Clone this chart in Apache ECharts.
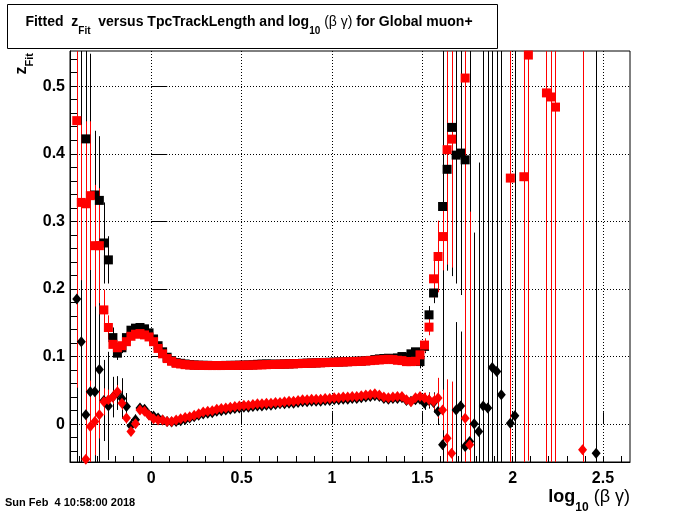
<!DOCTYPE html>
<html><head><meta charset="utf-8">
<script src="https://cdn.jsdelivr.net/npm/echarts@6/dist/echarts.min.js"></script>
<style>html,body{margin:0;padding:0;background:#fff}#c{width:700px;height:514px}</style>
</head><body><div id="c"></div>
<script>
// bin centres in log10(beta gamma)
const bins = [
-0.4125,-0.3875,-0.3625,-0.3375,-0.3125,-0.2875,-0.2625,-0.2375,-0.2125,-0.1875,
-0.1625,-0.1375,-0.1125,-0.0875,-0.0625,-0.0375,-0.0125,0.0125,0.0375,0.0625,
0.0875,0.1125,0.1375,0.1625,0.1875,0.2125,0.2375,0.2625,0.2875,0.3125,
0.3375,0.3625,0.3875,0.4125,0.4375,0.4625,0.4875,0.5125,0.5375,0.5625,
0.5875,0.6125,0.6375,0.6625,0.6875,0.7125,0.7375,0.7625,0.7875,0.8125,
0.8375,0.8625,0.8875,0.9125,0.9375,0.9625,0.9875,1.0125,1.0375,1.0625,
1.0875,1.1125,1.1375,1.1625,1.1875,1.2125,1.2375,1.2625,1.2875,1.3125,
1.3375,1.3625,1.3875,1.4125,1.4375,1.4625,1.4875,1.5125,1.5375,1.5625,
1.5875,1.6125,1.6375,1.6625,1.6875,1.7125,1.7375,1.7625,1.7875,1.8125,
1.8375,1.8625,1.8875,1.9125,1.9375,1.9625,1.9875,2.0125,2.0375,2.0625,
2.0875,2.1125,2.1375,2.1625,2.1875,2.2125,2.2375,2.2625,2.2875,2.3125,
2.3375,2.3625,2.3875,2.4125,2.4375,2.4625];
const _ = null;
// black squares
const blackSquareY = [
_,_,0.422,_,0.339,0.331,0.268,0.243,0.128,0.105,
0.113,0.128,0.139,0.142,0.143,0.141,0.135,0.126,0.116,0.107,
0.099,0.094,0.091,0.090,0.089,0.088,0.0875,0.0872,0.087,0.087,
0.0868,0.0868,0.0868,0.0869,0.087,0.087,0.0872,0.0873,0.0875,0.0877,
0.0885,0.0888,0.089,0.0888,0.0886,0.0888,0.089,0.0892,0.0894,0.0897,
0.090,0.0902,0.0904,0.0907,0.091,0.0913,0.0915,0.0918,0.092,0.0922,
0.0925,0.0928,0.093,0.0933,0.0938,0.0943,0.0955,0.0965,0.097,0.0975,
0.097,0.098,0.100,0.099,0.104,0.107,0.0926,0.115,0.1617,0.194,
_,0.322,0.377,0.439,0.398,0.401,0.391,_,_,_,
_,_,_,_,_,_,_,_,_,_,
_,_,_,_,_,_,_,_,_,_,
_,_,_,_,_,_];
const blackSquareErr = [
0,0,0.15,0,0.095,0.095,0.06,0.035,0.015,0.01,
0.008,0.005,0.004,0.004,0.003,0.003,0.003,0.003,0.002,0.002,
0,0,0,0,0,0,0,0,0,0,
0,0,0,0,0,0,0,0,0,0,
0,0,0,0,0,0,0,0,0,0,
0,0,0,0,0,0,0,0,0,0,
0,0,0,0,0,0,0,0,0,0,
0,0,0,0,0.004,0.005,0.01,0.01,0.013,0.015,
0,0.085,0.15,0.22,0.19,0.21,0.2,0,0,0,
0,0,0,0,0,0,0,0,0,0,
0,0,0,0,0,0,0,0,0,0,
0,0,0,0,0,0];
// red squares
const redSquareY = [
0.449,0.328,0.326,0.338,0.264,0.264,0.169,0.143,0.118,0.113,
0.116,0.122,0.130,0.133,0.134,0.132,0.129,0.122,0.112,0.104,
0.097,0.093,0.090,0.089,0.088,0.0875,0.087,0.087,0.0868,0.0867,
0.0867,0.0867,0.0867,0.0868,0.0868,0.0869,0.087,0.087,0.0872,0.0873,
0.0875,0.0877,0.088,0.0882,0.0884,0.0886,0.0888,0.089,0.0892,0.0895,
0.0897,0.090,0.0902,0.0905,0.0907,0.091,0.0912,0.0915,0.0917,0.092,
0.0922,0.0925,0.0928,0.093,0.0935,0.094,0.0945,0.095,0.0955,0.096,
0.0955,0.0945,0.094,0.0925,0.0925,0.093,0.1025,0.117,0.1435,0.215,
0.248,0.2775,0.406,0.4216,_,_,0.512,_,_,_,
_,_,_,_,_,_,0.364,_,_,0.366,
0.546,_,_,_,0.490,0.484,0.469,_,_,_,
_,_,_,_,_,_];
const redSquareErr = [
0.395,0.115,0.11,0.11,0.09,0.085,0.03,0.018,0.01,0.008,
0.006,0.005,0.004,0.004,0.003,0.003,0.003,0.003,0.002,0.002,
0,0,0,0,0,0,0,0,0,0,
0,0,0,0,0,0,0,0,0,0,
0,0,0,0,0,0,0,0,0,0,
0,0,0,0,0,0,0,0,0,0,
0,0,0,0,0,0,0,0,0,0,
0,0,0,0,0,0,0.008,0.01,0.012,0.028,
0.053,0.05,0.17,0.19,0,0,0.7,0,0,0,
0,0,0,0,0,0,0.6,0,0,0.6,
0.6,0,0,0,0.6,0.6,0.6,0,0,0,
0,0,0,0,0,0];
// black diamonds
const blackDiamondY = [
0.185,0.122,0.0138,0.048,0.048,0.081,0.035,0.027,0.040,0.046,
0.038,0.026,-0.0025,0.0064,0.024,0.022,0.014,0.012,0.009,0.006,
0.004,0.003,0.004,0.005,0.007,0.009,0.011,0.013,0.015,0.016,
0.017,0.019,0.020,0.021,0.022,0.023,0.024,0.025,0.025,0.026,
0.027,0.027,0.028,0.028,0.029,0.030,0.030,0.031,0.031,0.032,
0.033,0.033,0.034,0.034,0.034,0.035,0.035,0.036,0.036,0.037,
0.037,0.038,0.038,0.039,0.040,0.041,0.042,0.041,0.038,0.037,
0.038,0.038,0.039,0.035,0.034,0.036,0.037,0.031,0.035,0.032,
0.0187,-0.0306,_,_,0.021,0.027,-0.033,-0.0257,0.0004,-0.011,
0.027,0.0237,0.0837,0.078,0.0433,_,0.0015,0.0123,_,_,
_,_,_,_,_,_,_,_,_,_,
_,_,_,_,_,-0.043];
const blackDiamondErr = [
0.25,0.45,0.25,0.5,0.15,0.34,0.06,0.08,0.03,0.025,
0.03,0.02,0.01,0.008,0.006,0.005,0.004,0.003,0.003,0.002,
0,0,0,0,0,0,0,0,0,0,
0,0,0,0,0,0,0,0,0,0,
0,0,0,0,0,0,0,0,0,0,
0,0,0,0,0,0,0,0,0,0,
0,0,0,0,0,0,0,0,0,0,
0,0,0,0,0,0,0.005,0.01,0.012,0.015,
0.02,0.6,0,0,0.13,0.11,0.3,0.6,0.283,0.398,
0.6,0.6,0.6,0.6,0.6,0,0.6,0.6,0,0,
0,0,0,0,0,0,0,0,0,0,
0,0,0,0,0,0.8];
// red diamonds
const redDiamondY = [
_,_,-0.052,-0.0035,0.004,0.0138,0.033,0.036,0.040,0.048,
0.031,0.009,-0.011,0.0004,0.021,0.019,0.013,0.008,0.006,0.006,
0.004,0.004,0.006,0.008,0.010,0.011,0.013,0.0155,0.018,0.019,
0.020,0.022,0.023,0.024,0.025,0.026,0.027,0.028,0.028,0.029,
0.030,0.030,0.031,0.031,0.032,0.032,0.033,0.034,0.034,0.035,
0.036,0.036,0.037,0.037,0.037,0.038,0.038,0.039,0.039,0.040,
0.040,0.041,0.041,0.042,0.043,0.044,0.045,0.043,0.040,0.039,
0.040,0.041,0.041,0.036,0.033,0.039,0.041,0.0385,0.036,0.0334,
0.0385,0.021,-0.0207,-0.043,_,_,0.0089,-0.0306,_,_,
_,_,_,_,_,_,_,_,_,_,
_,_,_,_,_,_,_,_,_,_,
_,_,-0.038,_,_,_];
const redDiamondErr = [
0,0,0.5,0.068,0.05,0.035,0.02,0.015,0.01,0.01,
0.01,0.008,0.006,0.005,0.004,0.003,0.003,0.002,0.002,0.002,
0,0,0,0,0,0,0,0,0,0,
0,0,0,0,0,0,0,0,0,0,
0,0,0,0,0,0,0,0,0,0,
0,0,0,0,0,0,0,0,0,0,
0,0,0,0,0,0,0,0,0,0,
0,0,0,0,0,0,0.005,0.008,0.01,0.012,
0.03,0.03,0.087,0.106,0,0,0.05,0.345,0,0,
0,0,0,0,0,0,0,0,0,0,
0,0,0,0,0,0,0,0,0,0,
0,0,0.8,0,0,0];

const xLabels = [0, 0.5, 1, 1.5, 2, 2.5];
const xMinorTicks = [-0.4,-0.3,-0.2,-0.1,0,0.1,0.2,0.3,0.4,0.5,0.6,0.7,0.8,0.9,1,1.1,1.2,1.3,1.4,1.5,1.6,1.7,1.8,1.9,2,2.1,2.2,2.3,2.4,2.5,2.6];
const yLabels = [0, 0.1, 0.2, 0.3, 0.4, 0.5];
const yMinorTicks = [-0.04,-0.02,0,0.02,0.04,0.06,0.08,0.1,0.12,0.14,0.16,0.18,0.2,0.22,0.24,0.26,0.28,0.3,0.32,0.34,0.36,0.38,0.4,0.42,0.44,0.46,0.48,0.5,0.52,0.54];

const FONT = "'Liberation Sans', Arial, Helvetica, sans-serif";
const XMIN = -0.45, XMAX = 2.65, YMIN = -0.056, YMAX = 0.552;

function pts(ys){ const out=[]; bins.forEach((x,i)=>{ if(ys[i]!==null) out.push([x, ys[i]]); }); return out; }
function bars(ys, es){ const out=[]; bins.forEach((x,i)=>{ if(ys[i]!==null && es[i]>0) out.push([x, ys[i], es[i]]); }); return out; }
function errSeries(ys, es, color){
  return {type:'custom', coordinateSystem:'cartesian2d', clip:true, silent:true,
    data: bars(ys, es), encode:{x:0, y:1},
    renderItem(params, api){
      const x=api.value(0), y=api.value(1), e=api.value(2);
      const a=api.coord([x, y-e]), b=api.coord([x, y+e]);
      const px=Math.round(a[0])+0.5;
      return {type:'line', shape:{x1:px, y1:a[1], x2:px, y2:b[1]}, style:{stroke:color, lineWidth:1}};
    }};
}
function scat(ys, symbol, size, color){
  return {type:'scatter', data: pts(ys), symbol, symbolSize:size, silent:true,
    itemStyle:{color, opacity:1}};
}

const chart = echarts.init(document.getElementById('c'));
const dotted = {color:'#000', width:1, type:[1,2]};
chart.setOption({
  animation:false,
  backgroundColor:'#fff',
  grid:{left:70, top:51, width:560, height:411, show:true, borderColor:'#000', borderWidth:1, backgroundColor:'#fff', containLabel:false, outerBoundsMode:'none'},
  xAxis:[
    {type:'value', min:XMIN, max:XMAX, position:'bottom',
     axisLine:{show:true, onZero:false, lineStyle:{color:'#000', width:1}},
     axisTick:{show:true, inside:true, length:6, customValues:xMinorTicks, lineStyle:{color:'#000', width:1}},
     axisLabel:{show:true, customValues:xLabels, margin:9, color:'#000', fontSize:16, fontWeight:'bold', fontFamily:FONT,
       formatter:v=> (Math.abs(v*2-Math.round(v*2))<1e-6 ? String(v) : '')},
     splitLine:{show:false}},
    {type:'value', min:XMIN, max:XMAX, position:'bottom', offset:0,
     axisLine:{show:false},
     axisTick:{show:true, inside:true, length:12, customValues:xLabels, lineStyle:{color:'#000', width:1}},
     axisLabel:{show:false},
     splitLine:{show:true, lineStyle:dotted}}
  ],
  yAxis:[
    {type:'value', min:YMIN, max:YMAX, position:'left',
     axisLine:{show:true, onZero:false, lineStyle:{color:'#000', width:1}},
     axisTick:{show:true, inside:true, length:8, customValues:yMinorTicks, lineStyle:{color:'#000', width:1}},
     axisLabel:{show:true, customValues:yLabels, margin:5, padding:[4,0,0,0], color:'#000', fontSize:16, fontWeight:'bold', fontFamily:FONT,
       formatter:v=> (Math.abs(v*10-Math.round(v*10))<1e-6 ? String(v) : '')},
     splitLine:{show:false}},
    {type:'value', min:YMIN, max:YMAX, position:'left', offset:0,
     axisLine:{show:false},
     axisTick:{show:true, inside:true, length:16, customValues:yLabels, lineStyle:{color:'#000', width:1}},
     axisLabel:{show:false},
     splitLine:{show:true, lineStyle:dotted}}
  ],
  series:[
    errSeries(blackSquareY, blackSquareErr, '#000'),
    scat(blackSquareY, 'rect', 9, '#000'),
    errSeries(blackDiamondY, blackDiamondErr, '#000'),
    scat(blackDiamondY, 'diamond', [9,11], '#000'),
    errSeries(redSquareY, redSquareErr, '#ff0000'),
    scat(redSquareY, 'rect', 9, '#ff0000'),
    errSeries(redDiamondY, redDiamondErr, '#ff0000'),
    scat(redDiamondY, 'diamond', [9,11], '#ff0000')
  ],
  graphic:[
    {type:'rect', shape:{x:7.5, y:4.5, width:490, height:44}, style:{fill:'#fff', stroke:'#000', lineWidth:1}, z:10},
    {type:'text', x:249, y:15, z:11, style:{
      text:'{b|Fitted  z}{s|Fit}{b|  versus TpcTrackLength and log}{s|10}{g| (β γ)}{b| for Global muon+}',
      align:'center', verticalAlign:'top',
      rich:{
        b:{fontSize:14, fontWeight:'bold', fontFamily:FONT, fill:'#000', verticalAlign:'top'},
        g:{fontSize:14, fontWeight:'normal', fontFamily:FONT, fill:'#000', verticalAlign:'top'},
        s:{fontSize:10, fontWeight:'bold', fontFamily:FONT, fill:'#000', verticalAlign:'top', padding:[11,0,0,0]}
      }}},
    {type:'text', x:14, y:53, rotation:Math.PI/2, z:11, style:{
      text:'{b|z}{s|Fit}', align:'right', verticalAlign:'top',
      rich:{
        b:{fontSize:16, fontWeight:'bold', fontFamily:FONT, fill:'#000', verticalAlign:'top'},
        s:{fontSize:11, fontWeight:'bold', fontFamily:FONT, fill:'#000', verticalAlign:'top', padding:[10,0,0,0]}
      }}},
    {type:'text', x:630, y:488, z:11, style:{
      text:'{b|log}{s|10}{g| (β γ)}', align:'right', verticalAlign:'top',
      rich:{
        b:{fontSize:18, fontWeight:'bold', fontFamily:FONT, fill:'#000', verticalAlign:'top'},
        g:{fontSize:18, fontWeight:'normal', fontFamily:FONT, fill:'#000', verticalAlign:'top'},
        s:{fontSize:12, fontWeight:'bold', fontFamily:FONT, fill:'#000', verticalAlign:'top', padding:[14,0,0,0]}
      }}},
    {type:'text', x:5, y:503, z:11, style:{text:'Sun Feb  4 10:58:00 2018', align:'left', verticalAlign:'middle',
      fontSize:11, fontWeight:'bold', fontFamily:FONT, fill:'#000'}}
  ]
});
</script></body></html>
